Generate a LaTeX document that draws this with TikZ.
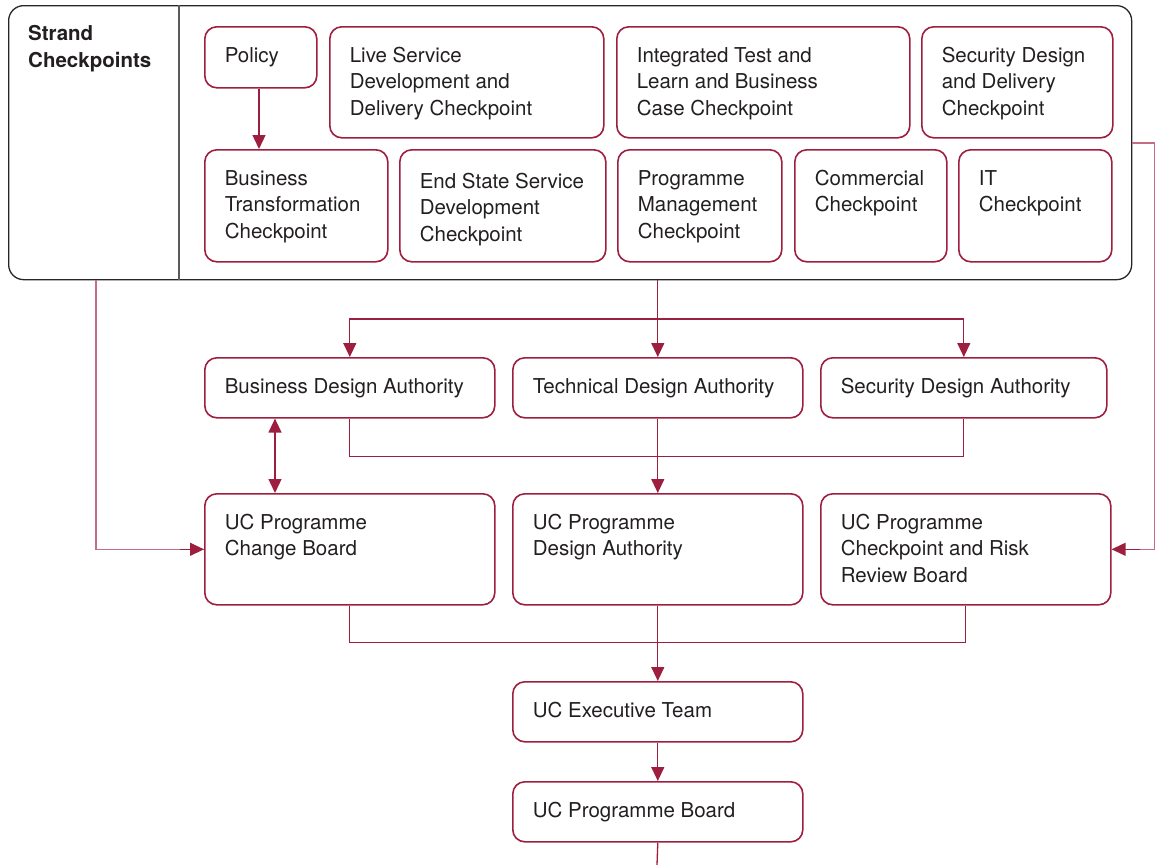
\documentclass[tikz,border=0pt]{standalone}
\usepackage{fontspec}
\setmainfont{TeX Gyre Heros}
\usetikzlibrary{arrows.meta}
\usetikzlibrary{positioning}
\definecolor{ucred}{RGB}{158,30,64}
\definecolor{ucpink}{RGB}{196,110,134}
\definecolor{uctext}{RGB}{35,31,32}
\definecolor{ucgrey}{RGB}{90,90,90}
\newcommand{\boxtext}[4][35.5pt]{\parbox[c][#3][t]{#2}{\rule{0pt}{#1}\begin{tabular}[t]{@{}l@{}}#4\end{tabular}}}
\tikzset{
  UCBox/.style={
    rectangle, rounded corners=12pt, draw=ucred, line width=1.6pt,
    anchor=north west, inner xsep=20pt, inner ysep=0pt, text=uctext,
    font=\fontsize{20.5}{26.5}\selectfont,
  },
  UCLine/.style={draw=ucred, line width=1.3pt},
  UCThin/.style={draw=ucpink, line width=1.2pt},
  UCArrow/.style={-{Triangle[length=14pt, width=13pt]}},
  UCBoth/.style={{Triangle[length=14pt, width=13pt]}-{Triangle[length=14pt, width=13pt]}},
}

\begin{document}
\begin{tikzpicture}[x=1pt, y=-1pt]
\useasboundingbox (0,0) rectangle (1160,865);
% strand checkpoints frame
\node[rectangle, rounded corners=15pt, draw=black!85, line width=1.3pt, anchor=north west, minimum width=1123pt, minimum height=274pt, inner sep=0pt] (strand) at (8,5) {};
\draw[ucgrey, line width=1.3pt] (strand.north -| 179,0) -- (strand.south -| 179,0);
\node[anchor=base west, inner sep=0pt, text=uctext, font=\fontsize{20.5}{27}\selectfont\bfseries] (strandT) at (28,40) {\parbox[t]{140pt}{Strand\\Checkpoints}};

\node[UCBox] (policy) at (204,26) {\boxtext{72pt}{61pt}{Policy}};
\node[UCBox] (live) at (329,26) {\boxtext{234pt}{111pt}{Live Service\\Development and\\Delivery Checkpoint}};
\node[UCBox] (itl) at (616,26) {\boxtext{253pt}{111pt}{Integrated Test and\\Learn and Business\\Case Checkpoint}};
\node[UCBox] (secd) at (921,26) {\boxtext{151pt}{111pt}{Security Design\\and Delivery\\Checkpoint}};

\node[UCBox] (btc) at (204,149) {\boxtext{143pt}{112pt}{Business\\Transformation\\Checkpoint}};
\node[UCBox] (esd) at (399,149) {\boxtext[38.5pt]{166pt}{112pt}{End State Service\\Development\\Checkpoint}};
\node[UCBox] (pmc) at (617,149) {\boxtext{124pt}{112pt}{Programme\\Management\\Checkpoint}};
\node[UCBox] (comm) at (794,149) {\boxtext{112pt}{112pt}{Commercial\\Checkpoint}};
\node[UCBox] (itc) at (958,149) {\boxtext{113pt}{112pt}{IT\\Checkpoint}};

% design authorities
\node[UCBox] (bda) at (204,357) {\boxtext{250pt}{60pt}{Business Design Authority}};
\node[UCBox] (tda) at (512,357) {\boxtext{250pt}{60pt}{Technical Design Authority}};
\node[UCBox] (sda) at (820,357) {\boxtext{246pt}{60pt}{Security Design Authority}};

% programme boards
\node[UCBox] (ucb) at (204,493) {\boxtext{250pt}{111pt}{UC Programme\\Change Board}};
\node[UCBox] (uda) at (512,493) {\boxtext{250pt}{111pt}{UC Programme\\Design Authority}};
\node[UCBox] (rrb) at (820,493) {\boxtext{250pt}{111pt}{UC Programme\\Checkpoint and Risk\\Review Board}};

\node[UCBox] (exec) at (512,681) {\boxtext{250pt}{60pt}{UC Executive Team}};
\node[UCBox] (board) at (512,781) {\boxtext{250pt}{60pt}{UC Programme Board}};
\coordinate (boardEnd) at (657,865);

% connectors
\draw[UCLine, UCArrow] (policy.south -| 259,0) -- (btc.north -| 259,0);
\draw[UCLine, UCArrow] (strand.south -| tda) -- (tda.north);
\draw[UCLine, UCBoth] (bda.north) -- ++(0,-38) -| (sda.north);
\draw[UCLine, UCBoth] (bda.south -| 275,0) -- (ucb.north -| 275,0);
\draw[UCLine] (bda.south) -- ++(0,38) -| (sda.south);
\draw[UCLine, UCArrow] (tda.south) -- (uda.north);
\draw[UCThin] (strand.south -| 96,0) |- (ucb.west);
\draw[UCLine, UCArrow] (180,0 |- ucb.west) -- (ucb.west);
\draw[UCThin] (strand.east |- 0,143) -- ++(22,0) |- (rrb.east);
\draw[UCLine, UCArrow] (1140,0 |- rrb.east) -- (rrb.east);
\draw[UCLine] (ucb.south) -- ++(0,37) -| (rrb.south);
\draw[UCLine, UCArrow] (uda.south) -- (exec.north);
\draw[UCLine, UCArrow] (exec.south) -- (board.north);
\draw[UCLine] (board.south) -- (boardEnd);
\end{tikzpicture}
\end{document}
